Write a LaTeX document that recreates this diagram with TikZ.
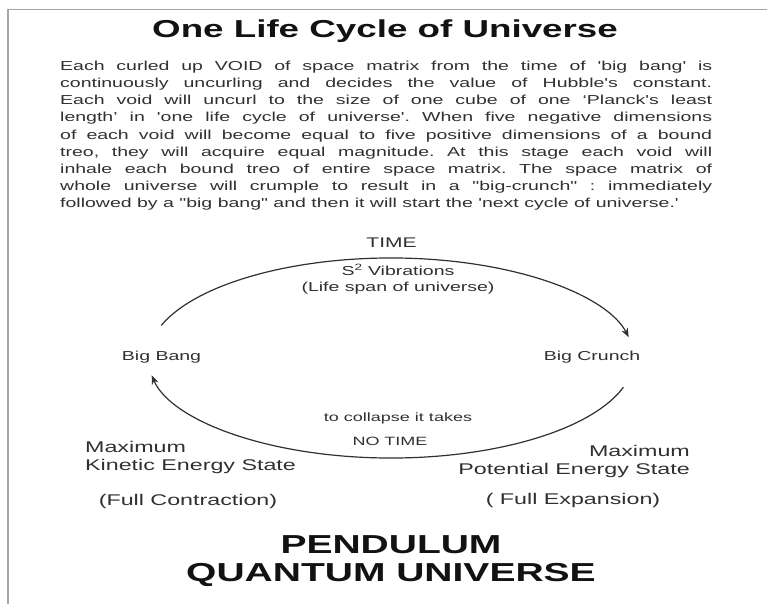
\documentclass[tikz,border=0pt]{standalone}
\usepackage{fontspec}
\setmainfont{Liberation Sans}[FakeStretch=1.5, Ligatures=TeXOff]
\definecolor{inkgray}{RGB}{48,48,48}
\definecolor{titleblack}{RGB}{18,18,18}
\definecolor{rulegray}{RGB}{165,165,165}
\usetikzlibrary{positioning, arrows.meta}
\frenchspacing

\begin{document}
\begin{tikzpicture}[
    x=1pt, y=1pt,
    txt/.style={text=inkgray, inner sep=0pt, font=\fontsize{13}{16}\selectfont, align=center},
    state/.style={text=inkgray, inner sep=0pt, font=\fontsize{15.5}{18}\selectfont},
    headline/.style={text=titleblack, inner sep=0pt, font=\bfseries\fontsize{26}{28}\selectfont, align=center},
    cyc/.style={draw=inkgray, line width=1.2pt, -{Stealth[length=9pt, width=7pt]}},
  ]
    \useasboundingbox (0,0) rectangle (767,-604);
    % page edge
    \draw[rulegray, line width=2.5pt] (8,-9) -- (8,-604);
    \draw[rulegray, line width=0.8pt] (8,-9) -- (767,-9);

    \node[headline, font=\bfseries\fontsize{24.5}{28}\selectfont] (title) at (385,-31) {One Life Cycle of Universe};
    \node[txt, anchor=north west, text width=652pt, align=justify,
      font=\fontsize{13}{17.1}\selectfont] (story) at (60,-61)
      {\tolerance=9999\parfillskip=0pt
       Each curled up VOID of space matrix from the time of 'big bang' is\linebreak
       continuously uncurling and decides the value of Hubble's constant.\linebreak
       Each void will uncurl to the size of one cube of one ‘Planck's least\linebreak
       length’ in 'one life cycle of universe'. When five negative dimensions\linebreak
       of each void will become equal to five positive dimensions of a bound\linebreak
       treo, they will acquire equal magnitude. At this stage each void will\linebreak
       inhale each bound treo of entire space matrix. The space matrix of\linebreak
       whole universe will crumple to result in a "big-crunch" : immediately\linebreak
       followed by a "big bang" and then it will start the 'next cycle of universe.'};

    % the cycle
    \coordinate (hub) at (391,-358);
    \path (hub) ++(161:243 and 100) coordinate (bangout);
    \path (hub) ++(-17:243 and 100) coordinate (crunchout);
    \draw[cyc] (bangout) arc[start angle=161, end angle=12, x radius=243, y radius=100];
    \draw[cyc] (crunchout) arc[start angle=-17, end angle=-170, x radius=243, y radius=100];

    \node[txt, font=\fontsize{14}{16}\selectfont] (time) at (391.5,-243) {TIME};
    \node[txt] (vib) at (398,-279) {S\textsuperscript{2} Vibrations\\(Life span of universe)};
    \node[txt] (bang) at (161.5,-357) {Big Bang};
    \node[txt] (crunch) at (592,-357) {Big Crunch};
    \node[txt, font=\fontsize{12}{14}\selectfont] (collapse) at (398,-418) {to collapse it takes};
    \node[txt, font=\fontsize{12}{14}\selectfont] (notime) at (390,-441) {NO TIME};

    \node[state, anchor=west, align=left] (kinetic) at (85,-457) {Maximum\\Kinetic Energy State};
    \node[state] (contract) at (188,-501) {(Full Contraction)};
    \node[state, anchor=east, align=right] (potential) at (690,-461.5) {Maximum\\Potential Energy State};
    \node[state] (expand) at (573,-500) {( Full Expansion)};

    \node[headline] (pendulum) at (391,-561) {PENDULUM\\QUANTUM UNIVERSE};
  \end{tikzpicture}
\end{document}
